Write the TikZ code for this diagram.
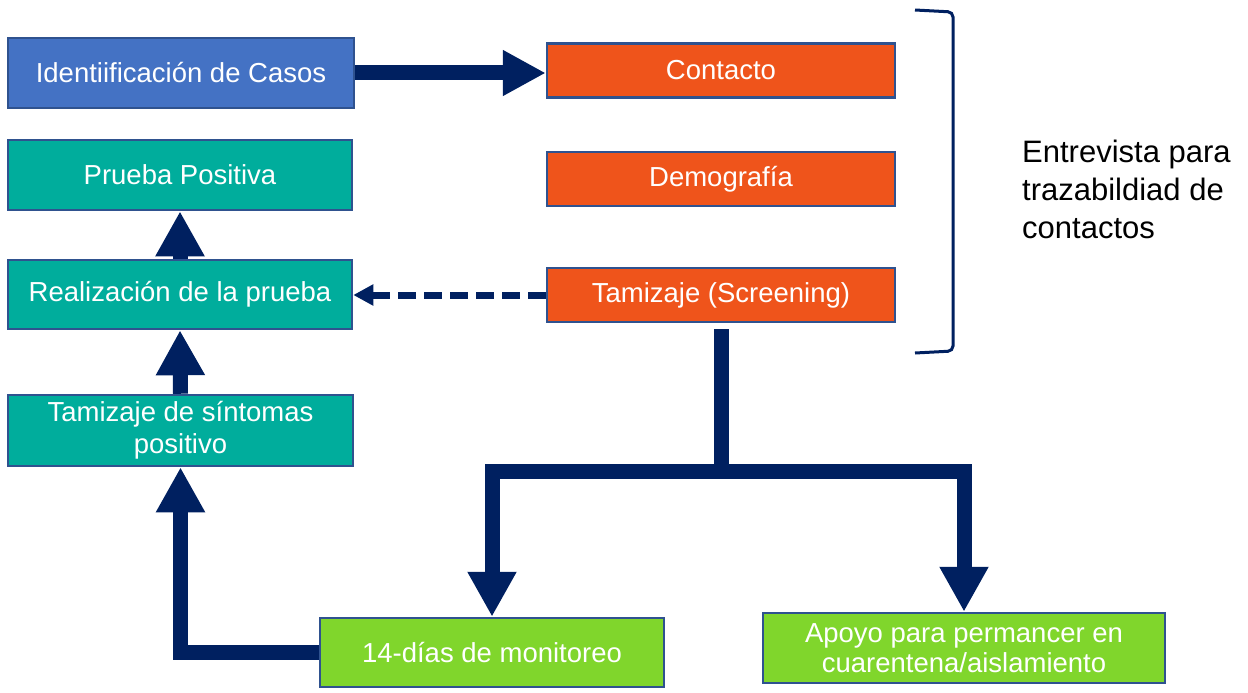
\documentclass[tikz,border=0pt]{standalone}
\usepackage{fontspec}
\setmainfont{Liberation Sans}
\usetikzlibrary{arrows.meta}
\definecolor{cblue}{RGB}{68,114,196}
\definecolor{corange}{RGB}{239,84,27}
\definecolor{cteal}{RGB}{0,173,156}
\definecolor{cgreen}{RGB}{128,214,44}
\definecolor{cborder}{RGB}{47,82,143}
\definecolor{navy}{RGB}{0,32,96}
\tikzset{
  box/.style={draw=cborder, line width=2.5pt, text=white, align=center, inner sep=0pt,
    font=\fontsize{27.5}{32}\selectfont},
  bigarrow/.style={draw=navy, line width=15pt, line cap=butt, line join=miter,
    -{Triangle[width=46pt,length=45pt]}},
  dasharrow/.style={draw=navy, line width=7pt, line cap=butt, dash pattern=on 18pt off 8pt,
    -{Triangle[width=20pt,length=20pt]}},
}
\begin{document}
\begin{tikzpicture}[x=1pt,y=-1pt]
\useasboundingbox (0,0) rectangle (1248,693);
% nodes
\node[box, fill=cblue, minimum width=346pt, minimum height=70pt] (id) at (181,73) {Identiificación de Casos};
\node[box, fill=corange, minimum width=348pt, minimum height=54pt] (con) at (721,70.5) {Contacto};
\node[box, fill=corange, minimum width=348pt, minimum height=54pt] (dem) at (721,179) {Demografía};
\node[box, fill=corange, minimum width=348pt, minimum height=54pt] (tam) at (721,295) {Tamizaje (Screening)};
\node[box, fill=cteal, minimum width=344pt, minimum height=70pt] (pp) at (180,175) {Prueba Positiva};
\node[box, fill=cteal, minimum width=344pt, minimum height=69pt] (real) at (180,294.5) {Realización de la prueba};
\node[box, fill=cteal, minimum width=345pt, minimum height=71pt] (sint) at (180.5,430.5) {Tamizaje de síntomas\\positivo};
\node[box, fill=cgreen, minimum width=344pt, minimum height=69pt] (mon) at (492,652.5) {14-días de monitoreo};
\node[box, fill=cgreen, minimum width=402pt, minimum height=70pt, font=\fontsize{27.5}{30}\selectfont] (apoyo) at (964,648) {Apoyo para permancer en\\cuarentena/aislamiento};
\node[anchor=north west, inner sep=0pt, align=left, font=\fontsize{31}{38}\selectfont] (entre) at (1022,140) {Entrevista para\\trazabildiad de\\contactos};
% bracket
\draw[navy, line width=3pt, rounded corners=5pt] (915,10) -- (953,12) -- (953,351) -- (915,353);
% arrows
\draw[bigarrow, -{Triangle[width=43pt,length=43pt]}] (id.east) -- (id.east -| con.west);
\draw[bigarrow] (real.north) -- (pp.south);
\draw[bigarrow] (sint.north) -- (real.south);
\draw[bigarrow] (mon.west) -| (sint.south);
\draw[dasharrow] (tam.west) -- (tam.west -| real.east);
\coordinate (jy) at (0,471.5);
\coordinate (j) at (tam.south |- jy);
\draw[draw=navy, line width=15pt, line cap=butt, shorten <=6pt] (tam.south) -- (j);
\draw[bigarrow] (j) -| (mon.north);
\draw[bigarrow] (j) -| (apoyo.north);
\end{tikzpicture}
\end{document}
